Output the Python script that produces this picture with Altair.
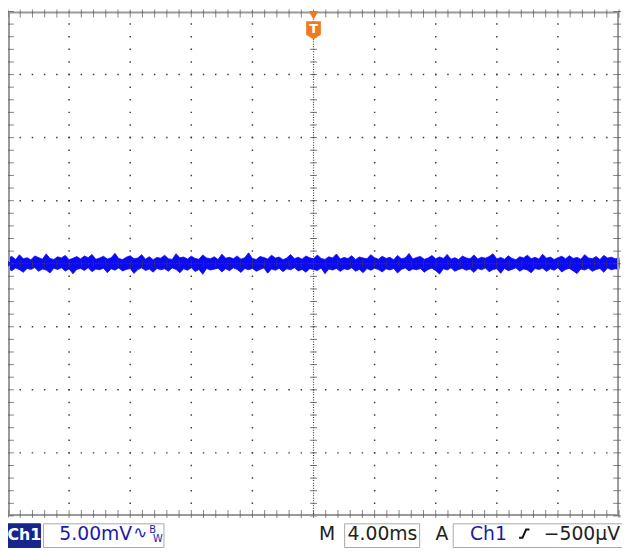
import altair as alt
import pandas as pd

# ---------------- data (read from the screen) ----------------
# time base: 4.00 ms/div, 10 divisions, trigger at centre -> -20 .. 20 ms
t_start = -20.0
t_step = 0.25
# vertical: 5.00 mV/div, 8 divisions -> -20 .. 20 mV
# upper / lower envelope of the noisy trace (mV)
upper_mv = [
    0.45, 0.58, 0.33, 0.71, 0.40, 0.47, 0.31, 0.62, 0.49, 0.36,
    0.78, 0.42, 0.34, 0.55, 0.46, 0.66, 0.32, 0.43, 0.57, 0.38,
    0.61, 0.48, 0.74, 0.35, 0.45, 0.59, 0.37, 0.47, 0.82, 0.41,
    0.33, 0.52, 0.63, 0.39, 0.46, 0.72, 0.36, 0.56, 0.32, 0.50,
    0.44, 0.67, 0.40, 0.34, 0.79, 0.47, 0.53, 0.37, 0.60, 0.42,
    0.35, 0.70, 0.46, 0.39, 0.55, 0.33, 0.76, 0.44, 0.51, 0.40,
    0.62, 0.36, 0.48, 0.86, 0.41, 0.34, 0.57, 0.49, 0.38, 0.68,
    0.45, 0.53, 0.32, 0.46, 0.73, 0.40, 0.51, 0.36, 0.61, 0.47,
    0.39, 0.69, 0.42, 0.34, 0.55, 0.46, 0.77, 0.37, 0.50, 0.41,
    0.64, 0.33, 0.54, 0.45, 0.39, 0.72, 0.47, 0.36, 0.59, 0.42,
    0.51, 0.31, 0.66, 0.40, 0.46, 0.81, 0.37, 0.50, 0.58, 0.35,
    0.45, 0.65, 0.39, 0.54, 0.42, 0.74, 0.36, 0.48, 0.33, 0.61,
    0.46, 0.40, 0.70, 0.37, 0.52, 0.44, 0.57, 0.79, 0.38, 0.50,
    0.36, 0.63, 0.42, 0.32, 0.55, 0.46, 0.68, 0.40, 0.51, 0.37,
    0.75, 0.44, 0.53, 0.34, 0.48, 0.59, 0.39, 0.64, 0.42, 0.50,
    0.36, 0.72, 0.46, 0.40, 0.57, 0.33, 0.66, 0.45, 0.52, 0.39,
    0.47,
]
lower_mv = [
    -0.40, -0.55, -0.34, -0.47, -0.68, -0.38, -0.45, -0.31, -0.60, -0.42,
    -0.50, -0.73, -0.36, -0.46, -0.33, -0.58, -0.41, -0.80, -0.45, -0.37,
    -0.53, -0.32, -0.63, -0.42, -0.48, -0.35, -0.71, -0.40, -0.51, -0.34,
    -0.57, -0.45, -0.38, -0.77, -0.46, -0.33, -0.54, -0.42, -0.67, -0.37,
    -0.48, -0.40, -0.59, -0.34, -0.45, -0.72, -0.39, -0.52, -0.32, -0.62,
    -0.46, -0.84, -0.37, -0.50, -0.43, -0.35, -0.65, -0.40, -0.55, -0.33,
    -0.45, -0.69, -0.38, -0.48, -0.37, -0.60, -0.46, -0.34, -0.75, -0.42,
    -0.52, -0.36, -0.63, -0.40, -0.48, -0.32, -0.57, -0.45, -0.68, -0.39,
    -0.46, -0.54, -0.34, -0.79, -0.42, -0.50, -0.37, -0.61, -0.40, -0.48,
    -0.33, -0.59, -0.45, -0.71, -0.38, -0.52, -0.36, -0.46, -0.65, -0.40,
    -0.50, -0.37, -0.74, -0.45, -0.34, -0.57, -0.42, -0.48, -0.38, -0.67,
    -0.46, -0.35, -0.55, -0.82, -0.40, -0.50, -0.33, -0.60, -0.45, -0.37,
    -0.52, -0.42, -0.69, -0.38, -0.48, -0.34, -0.63, -0.46, -0.40, -0.76,
    -0.37, -0.55, -0.45, -0.33, -0.59, -0.42, -0.50, -0.72, -0.38, -0.46,
    -0.36, -0.61, -0.40, -0.52, -0.32, -0.66, -0.45, -0.37, -0.57, -0.78,
    -0.42, -0.50, -0.36, -0.60, -0.46, -0.38, -0.68, -0.34, -0.48, -0.40,
    -0.45,
]
time_ms = [t_start + i * t_step for i in range(len(upper_mv))]

# graticule
x_major = [-16, -12, -8, -4, 4, 8, 12, 16]
y_major = [-15, -10, -5, 5, 10, 15]
x_minor = [-20 + 0.8 * k for k in range(51)]
y_minor = [-20 + 1.0 * k for k in range(41)]

# readout texts
ch_label = "Ch1"
volts_div = "5.00mV"
time_div = "4.00ms"
trig_level = "\u2212500\u00b5V"

# ---------------- styling ----------------
W, H = 619, 511
BLUE = "#0a0af5"
GRID = "#3c3c3c"
FRAME = "#9a9a9a"
ORANGE = "#f07a1e"
NAVY = "#18258c"
TXTBLUE = "#1c1ca8"
FONT = "DejaVu Sans"

xs = alt.Scale(domain=[-20, 20], nice=False, zero=False)
ys = alt.Scale(domain=[-20, 20], nice=False, zero=False)
one = pd.DataFrame({"k": [0]})

trace_df = pd.DataFrame({"t": time_ms, "hi": upper_mv, "lo": lower_mv})
trace = alt.Chart(trace_df).mark_area(
    color=BLUE, stroke=BLUE, strokeWidth=0.8, interpolate="linear"
).encode(
    x=alt.X("t:Q", scale=xs, axis=None),
    y=alt.Y("hi:Q", scale=ys, axis=None),
    y2="lo:Q",
)

vgrid = alt.Chart(pd.DataFrame({"t": x_major})).mark_rule(
    color=GRID, strokeWidth=1.5, strokeDash=[1.5, H / 40 - 1.5], strokeDashOffset=0.75
).encode(x=alt.X("t:Q", scale=xs, axis=None))

hgrid = alt.Chart(pd.DataFrame({"v": y_major})).mark_rule(
    color=GRID, strokeWidth=1.5, strokeDash=[1.5, W / 50 - 1.5], strokeDashOffset=0.75
).encode(y=alt.Y("v:Q", scale=ys, axis=None))

vcenter = alt.Chart(pd.DataFrame({"t": [0]})).mark_rule(
    color=GRID, strokeWidth=1.2, strokeDash=[1, H / 200 - 1], strokeDashOffset=0.5
).encode(x=alt.X("t:Q", scale=xs, axis=None))

hcenter = alt.Chart(pd.DataFrame({"v": [0]})).mark_rule(
    color=GRID, strokeWidth=1.2, strokeDash=[1, W / 250 - 1], strokeDashOffset=0.5
).encode(y=alt.Y("v:Q", scale=ys, axis=None))

vcenter_ticks = alt.Chart(pd.DataFrame({"v": y_minor})).mark_tick(
    orient="horizontal", color=GRID, size=7, thickness=1
).encode(y=alt.Y("v:Q", scale=ys, axis=None), x=alt.value(W / 2))

hcenter_ticks = alt.Chart(pd.DataFrame({"t": x_minor})).mark_tick(
    orient="vertical", color=GRID, size=7, thickness=1
).encode(x=alt.X("t:Q", scale=xs, axis=None), y=alt.value(H / 2))

frame = alt.Chart(one).mark_rect(
    fillOpacity=0, stroke=FRAME, strokeWidth=2
).encode(x=alt.value(1), x2=alt.value(W - 1), y=alt.value(1), y2=alt.value(H - 1))

top_ticks = alt.Chart(pd.DataFrame({"t": x_minor})).mark_tick(
    orient="vertical", color="#505050", size=8, thickness=1
).encode(x=alt.X("t:Q", scale=xs, axis=None), y=alt.value(2))
bot_ticks = alt.Chart(pd.DataFrame({"t": x_minor})).mark_tick(
    orient="vertical", color="#505050", size=8, thickness=1
).encode(x=alt.X("t:Q", scale=xs, axis=None), y=alt.value(H - 2))
left_ticks = alt.Chart(pd.DataFrame({"v": y_minor})).mark_tick(
    orient="horizontal", color="#505050", size=8, thickness=1
).encode(y=alt.Y("v:Q", scale=ys, axis=None), x=alt.value(2))
right_ticks = alt.Chart(pd.DataFrame({"v": y_minor})).mark_tick(
    orient="horizontal", color="#505050", size=8, thickness=1
).encode(y=alt.Y("v:Q", scale=ys, axis=None), x=alt.value(W - 2))

# trigger position marker (T) at t = 0
trig_df = pd.DataFrame({"t": [0]})
trig_tri = alt.Chart(trig_df).mark_point(
    shape="triangle-down", filled=True, color=ORANGE, size=95, opacity=1
).encode(x=alt.X("t:Q", scale=xs, axis=None), y=alt.value(4))
trig_box = alt.Chart(trig_df).mark_point(
    shape="M -0.82 -1 L 0.82 -1 L 0.82 0.5 L 0 1 L -0.82 0.5 Z",
    filled=True, color=ORANGE, size=330, opacity=1
).encode(x=alt.X("t:Q", scale=xs, axis=None), y=alt.value(19))
trig_txt = alt.Chart(trig_df).mark_text(
    text="T", color="white", font=FONT, fontWeight="bold", fontSize=13, baseline="middle"
).encode(x=alt.X("t:Q", scale=xs, axis=None), y=alt.value(18))

# channel ground marker on the left
gnd = alt.Chart(pd.DataFrame({"v": [0]})).mark_point(
    shape="triangle-right", filled=True, color="#2020c0", size=45, opacity=1
).encode(y=alt.Y("v:Q", scale=ys, axis=None), x=alt.value(2))


def box(x0, x1, fill, stroke):
    return alt.Chart(one).mark_rect(fill=fill, stroke=stroke, strokeWidth=1).encode(
        x=alt.value(x0), x2=alt.value(x1), y=alt.value(519), y2=alt.value(543)
    )


def txt(s, x, color, size=19, align="left", weight="normal", y=535):
    return alt.Chart(one).mark_text(
        text=s, color=color, font=FONT, fontSize=size, align=align,
        baseline="alphabetic", fontWeight=weight
    ).encode(x=alt.value(x), y=alt.value(y))


slope = alt.Chart(one).mark_point(
    shape="M -1 0.8 L -0.35 0.8 L 0.35 -0.8 L 1 -0.8",
    filled=False, color="#111111", strokeWidth=2, size=110, opacity=1
).encode(x=alt.value(523), y=alt.value(529))

status = [
    box(0, 33, NAVY, NAVY),
    txt(ch_label, 16.5, "white", size=16, align="center", weight="bold"),
    box(36, 158, "white", "#a8a8a8"),
    txt(volts_div, 52, TXTBLUE),
    txt("\u223f", 127, TXTBLUE, size=17, y=533),
    txt("B", 143, TXTBLUE, size=10, y=528),
    txt("W", 147, TXTBLUE, size=10, y=537),
    txt("M", 315, "#222222"),
    box(341, 417, "white", "#a8a8a8"),
    txt(time_div, 344, "#222222"),
    txt("A", 433, "#222222"),
    box(451, 625, "white", "#a8a8a8"),
    txt(ch_label, 468, TXTBLUE),
    slope,
    txt(trig_level, 620, "#222222", align="right"),
]

chart = alt.layer(
    trace,
    vgrid, hgrid, vcenter, hcenter, vcenter_ticks, hcenter_ticks,
    frame, top_ticks, bot_ticks, left_ticks, right_ticks,
    gnd, trig_tri, trig_box, trig_txt,
    *status,
).properties(
    width=W, height=H,
    padding={"left": 0, "top": 0, "right": 3, "bottom": 33},
    autosize=alt.AutoSizeParams(type="none"),
    background="white",
).configure_view(strokeWidth=0)

chart.save("out.html", embed_options={"renderer": "svg", "actions": False})
